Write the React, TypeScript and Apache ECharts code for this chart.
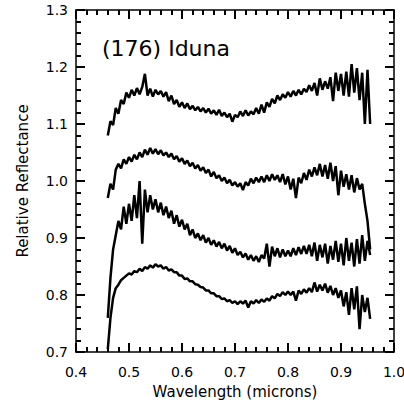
import React, { useEffect, useRef } from "react";
import * as echarts from "echarts";

const wavelengths = [
  0.460, 0.465, 0.470, 0.475, 0.480, 0.485, 0.490, 0.495, 0.500, 0.505,
  0.510, 0.515, 0.520, 0.525, 0.530, 0.535, 0.540, 0.545, 0.550, 0.555,
  0.560, 0.565, 0.570, 0.575, 0.580, 0.585, 0.590, 0.595, 0.600, 0.605,
  0.610, 0.615, 0.620, 0.625, 0.630, 0.635, 0.640, 0.645, 0.650, 0.655,
  0.660, 0.665, 0.670, 0.675, 0.680, 0.685, 0.690, 0.695, 0.700, 0.705,
  0.710, 0.715, 0.720, 0.725, 0.730, 0.735, 0.740, 0.745, 0.750, 0.755,
  0.760, 0.765, 0.770, 0.775, 0.780, 0.785, 0.790, 0.795, 0.800, 0.805,
  0.810, 0.815, 0.820, 0.825, 0.830, 0.835, 0.840, 0.845, 0.850, 0.855,
  0.860, 0.865, 0.870, 0.875, 0.880, 0.885, 0.890, 0.895, 0.900, 0.905,
  0.910, 0.915, 0.920, 0.925, 0.930, 0.935, 0.940, 0.945, 0.950, 0.955,
];

const spectrum1 = [
  1.080, 1.105, 1.098, 1.128, 1.118, 1.142, 1.135, 1.155, 1.146, 1.160,
  1.150, 1.163, 1.152, 1.165, 1.188, 1.150, 1.162, 1.148, 1.160, 1.152,
  1.158, 1.148, 1.156, 1.140, 1.150, 1.135, 1.142, 1.130, 1.138, 1.128,
  1.136, 1.126, 1.132, 1.124, 1.130, 1.122, 1.128, 1.120, 1.127, 1.118,
  1.124, 1.116, 1.125, 1.114, 1.120, 1.112, 1.118, 1.104, 1.116, 1.112,
  1.122, 1.114, 1.124, 1.115, 1.122, 1.117, 1.128, 1.118, 1.134, 1.120,
  1.138, 1.130, 1.144, 1.136, 1.150, 1.142, 1.152, 1.146, 1.156, 1.148,
  1.158, 1.150, 1.160, 1.152, 1.162, 1.156, 1.168, 1.158, 1.172, 1.150,
  1.180, 1.160, 1.175, 1.162, 1.182, 1.140, 1.190, 1.158, 1.188, 1.150,
  1.192, 1.148, 1.205, 1.155, 1.198, 1.142, 1.190, 1.100, 1.195, 1.100,
];

const spectrum2 = [
  0.970, 0.995, 0.985, 1.020, 1.030, 1.022, 1.038, 1.030, 1.042, 1.034,
  1.046, 1.038, 1.050, 1.042, 1.055, 1.046, 1.058, 1.048, 1.056, 1.047,
  1.054, 1.045, 1.050, 1.042, 1.048, 1.038, 1.044, 1.034, 1.040, 1.030,
  1.036, 1.026, 1.032, 1.022, 1.028, 1.018, 1.024, 1.014, 1.020, 1.008,
  1.016, 1.005, 1.010, 1.000, 1.006, 0.996, 1.002, 0.992, 0.998, 0.990,
  0.996, 0.984, 0.998, 0.992, 1.004, 0.996, 1.006, 0.998, 1.008, 0.998,
  1.010, 1.000, 1.012, 1.002, 1.010, 0.998, 1.012, 0.994, 1.008, 0.985,
  1.004, 0.970, 1.006, 0.996, 1.014, 1.002, 1.020, 1.008, 1.024, 1.010,
  1.030, 1.008, 1.028, 1.004, 1.032, 1.000, 1.026, 0.975, 1.018, 0.990,
  1.012, 0.985, 1.010, 0.980, 1.005, 0.985, 0.995, 0.960, 0.930, 0.880,
];

const spectrum3 = [
  0.760, 0.830, 0.880, 0.905, 0.930, 0.915, 0.955, 0.925, 0.960, 0.930,
  0.975, 0.935, 1.000, 0.890, 0.985, 0.945, 0.975, 0.950, 0.968, 0.945,
  0.962, 0.940, 0.955, 0.935, 0.948, 0.925, 0.940, 0.920, 0.932, 0.915,
  0.925, 0.905, 0.915, 0.900, 0.908, 0.896, 0.905, 0.892, 0.900, 0.888,
  0.896, 0.885, 0.893, 0.882, 0.890, 0.878, 0.886, 0.874, 0.882, 0.870,
  0.876, 0.866, 0.873, 0.862, 0.870, 0.860, 0.868, 0.858, 0.870, 0.864,
  0.890, 0.850, 0.885, 0.868, 0.882, 0.866, 0.880, 0.868, 0.878, 0.868,
  0.882, 0.870, 0.884, 0.872, 0.886, 0.872, 0.888, 0.868, 0.892, 0.860,
  0.888, 0.866, 0.890, 0.855, 0.886, 0.862, 0.895, 0.858, 0.890, 0.852,
  0.900, 0.860, 0.892, 0.850, 0.898, 0.855, 0.905, 0.860, 0.895, 0.870,
];

const spectrum4 = [
  0.705, 0.760, 0.795, 0.812, 0.818, 0.826, 0.830, 0.834, 0.838, 0.836,
  0.842, 0.840, 0.846, 0.842, 0.849, 0.846, 0.852, 0.848, 0.854, 0.850,
  0.852, 0.846, 0.849, 0.843, 0.845, 0.840, 0.840, 0.834, 0.834, 0.828,
  0.829, 0.824, 0.824, 0.819, 0.818, 0.814, 0.813, 0.808, 0.808, 0.803,
  0.803, 0.798, 0.798, 0.793, 0.794, 0.789, 0.791, 0.786, 0.789, 0.784,
  0.789, 0.785, 0.790, 0.778, 0.789, 0.785, 0.791, 0.786, 0.792, 0.788,
  0.794, 0.790, 0.798, 0.794, 0.802, 0.798, 0.805, 0.800, 0.806, 0.800,
  0.806, 0.790, 0.808, 0.802, 0.810, 0.804, 0.812, 0.805, 0.822, 0.806,
  0.818, 0.808, 0.820, 0.804, 0.816, 0.800, 0.812, 0.795, 0.808, 0.780,
  0.805, 0.765, 0.812, 0.775, 0.815, 0.740, 0.800, 0.770, 0.795, 0.758,
];

const spectra = [spectrum1, spectrum2, spectrum3, spectrum4];
const xTicks = [0.4, 0.5, 0.6, 0.7, 0.8, 0.9, 1.0];
const yTicks = [0.7, 0.8, 0.9, 1.0, 1.1, 1.2, 1.3];
const title = "(176) Iduna";
const xTitle = "Wavelength (microns)";
const yTitle = "Relative Reflectance";
const FONT = "DejaVu Sans";

export default function App() {
  const ref = useRef<HTMLDivElement>(null);
  useEffect(() => {
    if (!ref.current) return;
    const chart = echarts.init(ref.current, undefined, { renderer: "svg" });
    const xMin = xTicks[0];
    const xMax = xTicks[xTicks.length - 1];
    const yMin = yTicks[0];
    const yMax = yTicks[yTicks.length - 1];
    const axisLine = { show: true, onZero: false, lineStyle: { color: "#000", width: 1.5 } };
    const ticks = () => ({
      axisTick: { show: true, inside: true, length: 9, lineStyle: { color: "#000", width: 2 } },
      minorTick: { show: true, splitNumber: 5, length: 5, lineStyle: { color: "#000", width: 2 } },
      splitLine: { show: false },
    });
    const hiddenLabel = () => ({
      show: true,
      color: "rgba(0,0,0,0)",
      fontSize: 1,
      margin: 0,
      formatter: () => " ",
    });
    chart.setOption({
      animation: false,
      backgroundColor: "#fff",
      grid: { left: 76, right: 10, top: 10, bottom: 51, outerBoundsMode: "none" },
      xAxis: [
        {
          type: "value", min: xMin, max: xMax, interval: 0.1, position: "bottom",
          axisLine, ...ticks(),
          axisLabel: {
            show: true, color: "#000", fontFamily: FONT, fontSize: 14, margin: 13,
            formatter: (v: number) => v.toFixed(1),
          },
          name: xTitle, nameLocation: "middle", nameGap: 32,
          nameTextStyle: { color: "#000", fontFamily: FONT, fontSize: 15 },
        },
        {
          type: "value", min: xMin, max: xMax, interval: 0.1, position: "top",
          axisLine, ...ticks(),
          axisLabel: hiddenLabel(),
        },
      ],
      yAxis: [
        {
          type: "value", min: yMin, max: yMax, interval: 0.1, position: "left",
          axisLine, ...ticks(),
          axisLabel: {
            show: true, color: "#000", fontFamily: FONT, fontSize: 14, margin: 8,
            formatter: (v: number) => v.toFixed(1),
          },
          name: yTitle, nameLocation: "middle", nameGap: 46,
          nameTextStyle: { color: "#000", fontFamily: FONT, fontSize: 15 },
        },
        {
          type: "value", min: yMin, max: yMax, interval: 0.1, position: "right",
          axisLine, ...ticks(),
          axisLabel: hiddenLabel(),
        },
      ],
      graphic: [
        { type: "text", left: 102, top: 37, style: { text: title, fill: "#000", font: `22px "${FONT}"` } },
      ],
      series: spectra.map((s) => ({
        type: "line", symbol: "none",
        lineStyle: { color: "#000", width: 2.5 },
        data: wavelengths.map((w, i) => [w, s[i]]),
      })),
    });
    return () => chart.dispose();
  }, []);
  return (
    <div ref={ref} style={{ position: "absolute", left: 0, top: 0, width: 404, height: 403 }} />
  );
}
